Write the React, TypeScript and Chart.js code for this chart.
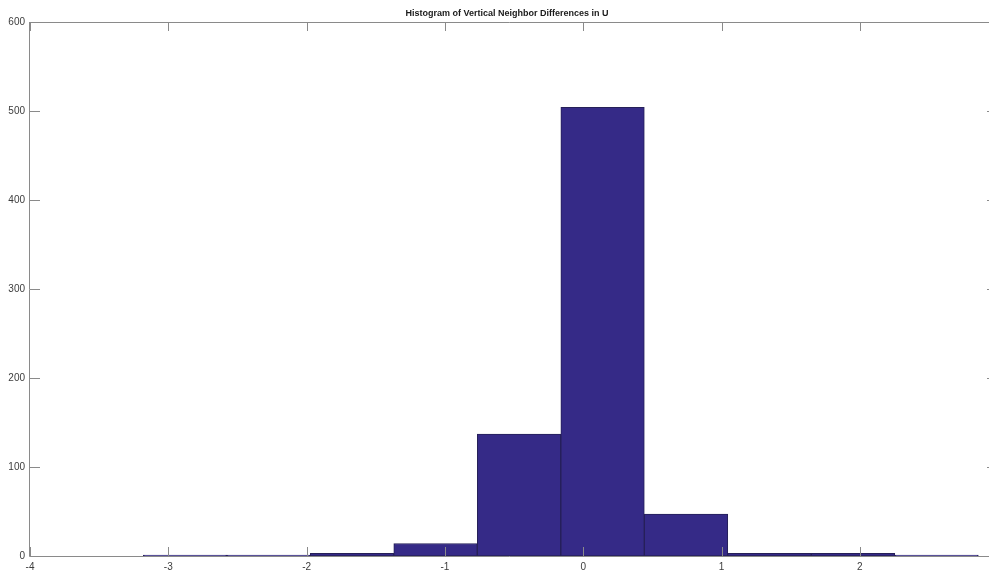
import React, { useEffect, useRef } from "react";
import { Chart, registerables } from "chart.js";

Chart.register(...registerables);

const chartTitle = "Histogram of Vertical Neighbor Differences in U";
const binEdges = [-3.181, -2.577, -1.973, -1.37, -0.766, -0.162, 0.442, 1.045, 1.649, 2.253, 2.857];
const binCounts = [1, 1, 3, 14, 137, 504, 47, 3, 3, 1];
const xMin = -4;
const xMax = 2.934;
const yMin = 0;
const yMax = 600;

const AXIS = "#8a8a8a";
const LABEL = "#3c3c3c";
const FONT = "Arial, 'Liberation Sans', Helvetica, sans-serif";

export default function App() {
  const ref = useRef<HTMLCanvasElement | null>(null);

  useEffect(() => {
    const canvas = ref.current;
    if (!canvas) return;
    const points = binCounts.map((c, i) => ({ x: (binEdges[i] + binEdges[i + 1]) / 2, y: c }));

    const matlabAxes = {
      id: "matlabAxes",
      afterDraw(chart: any) {
        const ctx = chart.ctx;
        const a = chart.chartArea;
        const xs = chart.scales.x;
        const ys = chart.scales.y;
        ctx.save();
        ctx.strokeStyle = AXIS;
        ctx.lineWidth = 1;
        ctx.beginPath();
        ctx.moveTo(a.left - 0.5, a.top);
        ctx.lineTo(a.left - 0.5, a.bottom + 0.5);
        ctx.moveTo(a.left - 0.5, a.top + 0.5);
        ctx.lineTo(a.right, a.top + 0.5);
        ctx.moveTo(a.left - 0.5, a.bottom + 0.5);
        ctx.lineTo(a.right, a.bottom + 0.5);
        xs.ticks.forEach((t: any) => {
          const px = Math.round(xs.getPixelForValue(t.value)) + 0.5;
          ctx.moveTo(px, a.bottom);
          ctx.lineTo(px, a.bottom - 9);
          ctx.moveTo(px, a.top);
          ctx.lineTo(px, a.top + 9);
        });
        ys.ticks.forEach((t: any) => {
          const py = Math.round(ys.getPixelForValue(t.value)) + 0.5;
          ctx.moveTo(a.left, py);
          ctx.lineTo(a.left + 10, py);
          ctx.moveTo(a.right - 2, py);
          ctx.lineTo(a.right, py);
        });
        ctx.stroke();
        ctx.fillStyle = "#1a1a1a";
        ctx.font = "bold 9px " + FONT;
        ctx.textAlign = "center";
        ctx.textBaseline = "middle";
        ctx.fillText(chartTitle, 507, 14);
        ctx.restore();
      },
    };

    const chart = new Chart(canvas, {
      type: "bar",
      data: {
        datasets: [
          {
            data: points,
            backgroundColor: "rgb(53,42,135)",
            borderColor: "rgb(38,32,88)",
            borderWidth: 1,
            barPercentage: 1,
            categoryPercentage: 1,
            borderSkipped: false,
          },
        ],
      },
      options: {
        animation: false,
        responsive: false,
        maintainAspectRatio: false,
        layout: { padding: { top: 22, left: 0, right: 0, bottom: 0 } },
        plugins: {
          legend: { display: false },
          title: { display: false },
          tooltip: { enabled: false },
        },
        scales: {
          x: {
            type: "linear",
            min: xMin,
            max: xMax,
            offset: false,
            grid: { display: false, drawTicks: false },
            border: { display: false },
            ticks: {
              stepSize: 1,
              includeBounds: false,
              padding: 5,
              color: LABEL,
              font: { family: FONT, size: 10 },
              maxRotation: 0,
              autoSkip: false,
            },
            afterFit: (s: any) => {
              s.height = 19;
            },
          },
          y: {
            type: "linear",
            min: yMin,
            max: yMax,
            grid: { display: false, drawTicks: false },
            border: { display: false },
            ticks: {
              stepSize: 100,
              padding: 5,
              color: LABEL,
              font: { family: FONT, size: 10 },
            },
            afterFit: (s: any) => {
              s.width = 30;
            },
          },
        },
      },
      plugins: [matlabAxes],
    } as any);

    return () => chart.destroy();
  }, []);

  return (
    <div style={{ position: "absolute", left: 0, top: 0, width: 989, height: 575, background: "#fff" }}>
      <canvas ref={ref} width={989} height={575} style={{ display: "block", width: 989, height: 575 }} />
    </div>
  );
}
